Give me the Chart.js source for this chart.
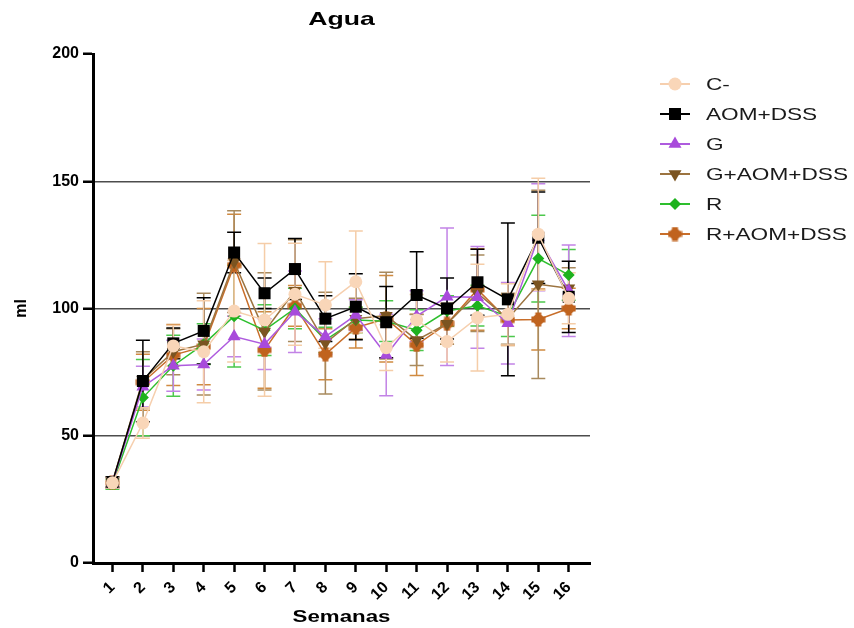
<!DOCTYPE html>
<html>
<head>
<meta charset="utf-8">
<script src="https://cdn.jsdelivr.net/npm/chart.js@4.4.1/dist/chart.umd.min.js"></script>
<style>
  html, body { margin: 0; padding: 0; background: #ffffff; }
  #wrap { position: relative; width: 854px; height: 628px; }
</style>
</head>
<body>
<div id="wrap"><canvas id="c" width="854" height="628"></canvas></div>
<script>
// ---- data ----
const weeks = [1, 2, 3, 4, 5, 6, 7, 8, 9, 10, 11, 12, 13, 14, 15, 16];
const seriesNames = ["C-", "AOM+DSS", "G", "G+AOM+DSS", "R", "R+AOM+DSS"];

const cNegMean   = [31.5, 55, 85.3, 83, 99, 95.5, 105.6, 101.4, 110.5, 84.6, 95.5, 87, 96.4, 97.7, 129.2, 104];
const cNegSD     = [2, 6, 8, 20, 20, 30, 20, 17, 20, 9, 10, 8, 21, 12, 22, 10];

const aomMean    = [31.8, 71.5, 86.3, 91.2, 122, 106, 115.5, 96, 100.7, 94.6, 105.3, 100, 110.3, 103.6, 127.8, 104.6];
const aomSD      = [2, 16, 6, 13, 8, 6, 12, 9, 13, 14, 17, 12, 13, 30, 18, 14];

const gMean      = [31.5, 69.3, 77.5, 78, 89, 86, 98.7, 89, 97.4, 81.7, 97, 104.6, 104.4, 94.2, 128, 107];
const gSD        = [2, 8, 10, 10, 8, 10, 16, 7, 6, 16, 10, 27, 20, 16, 21, 18];

const gAomMean   = [31.8, 72, 83, 86, 118.4, 91, 107, 86.4, 96, 97.2, 87.6, 94, 106, 96, 109.5, 108];
const gAomSD     = [2, 11, 9, 20, 20, 23, 20, 20, 8, 17, 10, 8, 15, 10, 37, 8];

const rMean      = [31, 65, 77.5, 86, 97, 91.5, 100, 87.6, 95.5, 95, 91.5, 99, 101.1, 97, 119.6, 113.2];
const rSD        = [2, 15, 12, 8, 20, 10, 8, 5, 5, 8, 8, 6, 8, 8, 17, 10];

const rAomMean   = [31.5, 71, 81.7, 85, 117, 83.7, 101, 82, 92.5, 96, 85.7, 94, 107.5, 95.5, 95.7, 100];
const rAomSD     = [2, 11, 12, 15, 20, 15, 8, 10, 8, 17, 12, 8, 16, 10, 12, 8];

const yTicks = [0, 50, 100, 150, 200];

// ---- custom marker for R+AOM+DSS ----
function plusBlob(color) {
  const cv = document.createElement('canvas');
  cv.width = 15; cv.height = 15;
  const g = cv.getContext('2d');
  g.fillStyle = color;
  g.fillRect(4.5, 0.5, 6, 14);
  g.fillRect(0.5, 4.5, 14, 6);
  g.beginPath(); g.arc(7.5, 7.5, 5.5, 0, Math.PI * 2); g.fill();
  return cv;
}

const styles = [
  { line: '#F6CFAE', fill: '#F9D6B8', err: '#F5CDA8', pointStyle: 'circle', radius: 6.5, rotation: 0 },
  { line: '#000000', fill: '#000000', err: '#000000', pointStyle: 'rect', radius: 8.5, rotation: 0 },
  { line: '#AE5BDE', fill: '#A84ADB', err: '#C283E6', pointStyle: 'triangle', radius: 7.5, rotation: 0 },
  { line: '#9C7440', fill: '#7B5421', err: '#A88A5E', pointStyle: 'triangle', radius: 7.5, rotation: 180 },
  { line: '#2EBF2E', fill: '#1DB21D', err: '#4CC84C', pointStyle: 'rectRot', radius: 6, rotation: 0 },
  { line: '#C86E2A', fill: '#C0631E', err: '#D08A40', pointStyle: plusBlob('#C0631E'), radius: 7, rotation: 0 }
];

const means = [cNegMean, aomMean, gMean, gAomMean, rMean, rAomMean];
const sds = [cNegSD, aomSD, gSD, gAomSD, rSD, rAomSD];

const datasets = seriesNames.map((name, k) => ({
  label: name,
  data: means[k].map((v, i) => ({ x: weeks[i], y: v })),
  borderColor: styles[k].line,
  backgroundColor: styles[k].fill,
  pointBackgroundColor: styles[k].fill,
  pointBorderColor: styles[k].fill,
  pointStyle: styles[k].pointStyle,
  pointRadius: styles[k].radius,
  pointRotation: styles[k].rotation,
  pointBorderWidth: 0,
  borderWidth: 1.5,
  tension: 0,
  fill: false
}));

// error bars drawn through the scales
const errorBars = {
  id: 'errorBars',
  beforeDatasetsDraw(chart) {
    const ctx = chart.ctx;
    const xs = chart.scales.x, ys = chart.scales.y;
    ctx.save();
    for (let k = means.length - 1; k >= 0; k--) {
      ctx.strokeStyle = styles[k].err;
      ctx.lineWidth = 1.5;
      for (let i = 0; i < weeks.length; i++) {
        const x = xs.getPixelForValue(weeks[i]);
        const yt = ys.getPixelForValue(means[k][i] + sds[k][i]);
        const yb = ys.getPixelForValue(means[k][i] - sds[k][i]);
        ctx.beginPath();
        ctx.moveTo(x, yt); ctx.lineTo(x, yb);
        ctx.moveTo(x - 7, yt); ctx.lineTo(x + 7, yt);
        ctx.moveTo(x - 7, yb); ctx.lineTo(x + 7, yb);
        ctx.stroke();
      }
    }
    ctx.restore();
  }
};

function wideText(ctx, text, x, y, sx, align) {
  ctx.save();
  ctx.translate(x, y);
  ctx.scale(sx, 1);
  ctx.textAlign = align;
  ctx.fillText(text, 0, 0);
  ctx.restore();
}

// title, x title and legend
const extras = {
  id: 'extras',
  afterDraw(chart) {
    const ctx = chart.ctx;
    const ca = chart.chartArea;
    ctx.save();
    ctx.fillStyle = '#000';
    ctx.textBaseline = 'middle';
    ctx.font = 'bold 19px "Liberation Sans", Arial, sans-serif';
    wideText(ctx, 'Agua', (ca.left + ca.right) / 2, 20, 1.4, 'center');
    ctx.font = 'bold 17px "Liberation Sans", Arial, sans-serif';
    wideText(ctx, 'Semanas', (ca.left + ca.right) / 2, 617, 1.31, 'center');

    const rowY0 = 84, rowStep = 30;
    ctx.font = '17px "Liberation Sans", Arial, sans-serif';
    for (let k = 0; k < seriesNames.length; k++) {
      const y = rowY0 + k * rowStep;
      ctx.strokeStyle = styles[k].line;
      ctx.lineWidth = 2;
      ctx.beginPath(); ctx.moveTo(660, y); ctx.lineTo(690, y); ctx.stroke();
      ctx.fillStyle = styles[k].fill;
      ctx.strokeStyle = styles[k].fill;
      Chart.helpers.drawPoint(ctx, {
        pointStyle: styles[k].pointStyle,
        radius: styles[k].radius,
        rotation: styles[k].rotation,
        borderWidth: 0
      }, 675, y);
      ctx.fillStyle = '#1a1a1a';
      wideText(ctx, seriesNames[k], 706, y + 1, 1.33, 'left');
    }
    ctx.restore();
  }
};

new Chart(document.getElementById('c'), {
  type: 'line',
  data: { datasets },
  options: {
    responsive: false,
    animation: false,
    layout: { padding: { top: 54, right: 264, left: 0, bottom: 0 } },
    plugins: { legend: { display: false }, title: { display: false }, tooltip: { enabled: false } },
    scales: {
      x: {
        type: 'linear',
        min: 0.36,
        max: 16.7,
        afterBuildTicks(scale) { scale.ticks = weeks.map(v => ({ value: v })); },
        afterFit(scale) { scale.height = 65; },
        ticks: {
          color: '#000',
          font: { family: '"Liberation Sans", Arial, sans-serif', size: 16, weight: 'bold' },
          minRotation: 45, maxRotation: 45,
          padding: 6,
          callback: v => String(v)
        },
        grid: { color: 'rgba(0,0,0,0)', tickColor: '#000', tickLength: 9, tickWidth: 2.5, drawOnChartArea: false },
        border: { color: '#000', width: 3 },
        title: { display: false }
      },
      y: {
        min: 0, max: 200,
        afterBuildTicks(scale) { scale.ticks = yTicks.map(v => ({ value: v })); },
        afterFit(scale) { scale.width = 93; },
        ticks: {
          color: '#000',
          font: { family: '"Liberation Sans", Arial, sans-serif', size: 16, weight: 'bold' },
          padding: 4
        },
        grid: {
          color: ctx => (ctx.tick && (ctx.tick.value === 0 || ctx.tick.value === 200)) ? 'rgba(0,0,0,0)' : '#4d4d4d',
          lineWidth: 1.5,
          tickColor: '#000', tickLength: 10, tickWidth: 2.5
        },
        border: { color: '#000', width: 3 },
        title: {
          display: true, text: 'ml', color: '#000',
          font: { family: '"Liberation Sans", Arial, sans-serif', size: 16, weight: 'bold' },
          padding: { top: 12, bottom: 0 }
        }
      }
    }
  },
  plugins: [errorBars, extras]
});
</script>
</body>
</html>
